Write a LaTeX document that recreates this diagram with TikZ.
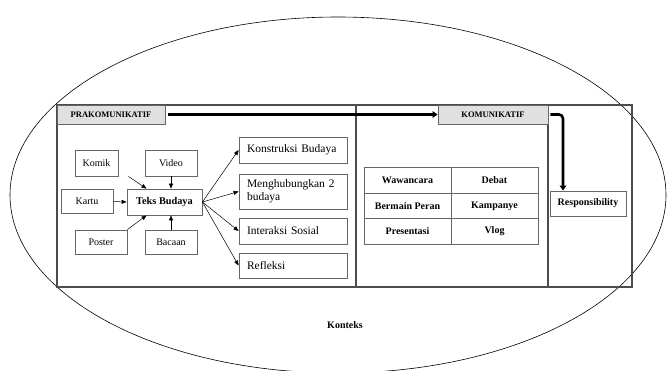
\documentclass[tikz,border=0pt]{standalone}
\usepackage{fontspec}
\setmainfont{Liberation Serif}
\usetikzlibrary{arrows.meta}

\tikzset{
    panel/.style={draw=black!70, line width=1.3pt, inner sep=0pt},
    tag/.style={draw=black!60, fill=black!12, line width=0.8pt, inner sep=0pt, font=\fontsize{8.5}{10}\selectfont\bfseries},
    box/.style={draw=black!60, line width=0.8pt, inner sep=0pt, font=\fontsize{10}{12}\selectfont},
    outbox/.style={draw=black!60, line width=0.8pt, inner xsep=8pt, inner ysep=0pt, text width=92pt, align=left, minimum width=108pt, font=\fontsize{11.5}{13}\selectfont},
    act/.style={draw=black!60, line width=0.8pt, inner sep=0pt, minimum width=87pt, minimum height=25.5pt, font=\fontsize{10}{12}\selectfont\bfseries},
    thinarrow/.style={draw=black, line width=0.5pt, -{Triangle[length=5pt, width=4pt]}},
    fatarrow/.style={draw=black, line width=2.6pt, -{Triangle[length=5pt, width=6.5pt]}}
}

\begin{document}
\begin{tikzpicture}[x=1pt, y=-1pt]
\useasboundingbox (0,0) rectangle (667,370);
\clip (0,0) rectangle (667,370);

\draw[line width=0.6pt] (338,195) ellipse [x radius=328pt, y radius=178pt];
\node[font=\fontsize{10}{12}\selectfont\bfseries] (ctx) at (345,325) {Konteks};

% the three stages
\begin{scope}[every node/.style={panel, minimum height=182pt}]
    \node[minimum width=299pt] (p1) at (206.5,196) {};
    \node[minimum width=192pt] (p2) at (452,196) {};
    \node[minimum width=84pt] (p3) at (590,196) {};
\end{scope}
\node[tag, minimum width=108pt, minimum height=19pt] (pra) at (111,114.5) {PRAKOMUNIKATIF};
\node[tag, minimum width=110pt, minimum height=19pt] (kom) at (493,114.5) {KOMUNIKATIF};

% media and text
\begin{scope}[every node/.style={box}]
    \node[minimum width=43pt, minimum height=26pt] (s1) at (96.5,163) {Komik};
    \node[minimum width=52pt, minimum height=26pt] (s2) at (171,163) {Video};
    \node[minimum width=52pt, minimum height=24pt] (s3) at (87,201.5) {Kartu};
    \node[minimum width=52pt, minimum height=24pt] (s4) at (101,242) {Poster};
    \node[minimum width=52pt, minimum height=24pt] (s5) at (171,242) {Bacaan};
    \node[minimum width=75pt, minimum height=26pt, font=\fontsize{10.3}{12}\selectfont\bfseries] (tb) at (164.5,202) {Teks Budaya};
\end{scope}
\begin{scope}[every node/.style={outbox}]
    \node[minimum height=26pt] (t1) at (293,150) {Konstruksi Budaya};
    \node[minimum height=35pt] (t2) at (293,191.5) {Menghubungkan 2 budaya};
    \node[minimum height=26pt] (t3) at (293,231) {Interaksi Sosial};
    \node[minimum height=25pt] (t4) at (293,265.5) {Refleksi};
\end{scope}

% activities
\begin{scope}[every node/.style={act}]
    \node (a1) at (407.5,180.5) {Wawancara};
    \node (a2) at (494.5,180.5) {Debat};
    \node (a3) at (407.5,206) {Bermain Peran};
    \node (a4) at (494.5,206) {Kampanye};
    \node (a5) at (407.5,231.5) {Presentasi};
    \node (a6) at (494.5,231.5) {Vlog};
\end{scope}
\node[box, minimum width=76pt, minimum height=25pt, font=\fontsize{10}{12}\selectfont\bfseries] (resp) at (588,203.5) {Responsibility};

\begin{scope}[every edge/.style={thinarrow}]
    \path ([xshift=10pt]s1.south east) edge ([xshift=-18pt]tb.north);
    \path (s2.south) edge (s2.south |- tb.north);
    \path (s3.east) edge (tb.west);
    \path (s4.north east) edge ([xshift=-18pt]tb.south);
    \path (s5.north) edge (s5.north |- tb.south);
    \path (tb.east) edge (t1.west);
    \path (tb.east) edge (t2.west);
    \path (tb.east) edge (t3.west);
    \path (tb.east) edge (t4.west);
\end{scope}

\coordinate (bend) at (563,114.5);
\draw[fatarrow, shorten <=3pt] (pra.east) -- (kom.west);
\draw[fatarrow, rounded corners=4pt] ([xshift=2pt]kom.east) -- (bend) -- (bend |- resp.north);
\end{tikzpicture}
\end{document}
